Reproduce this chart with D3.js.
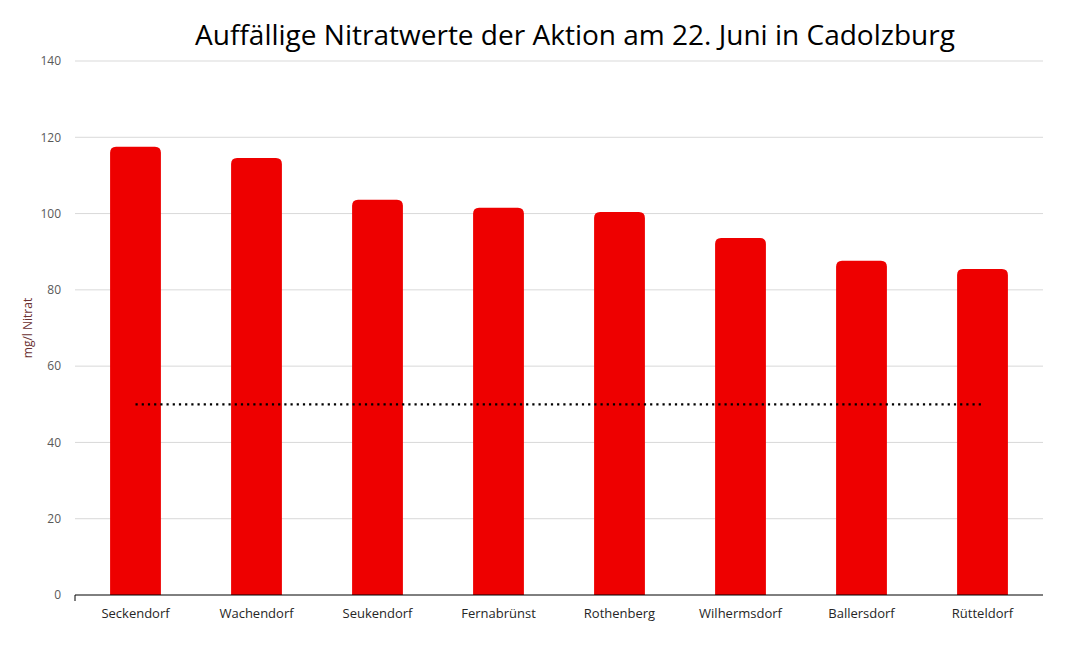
<!DOCTYPE html>
<html>
<head>
    <meta charset="utf-8">
    <script src="https://d3js.org/d3.v7.min.js"></script>
    <style>
        body { margin: 0; background: white; }
        text { font-family: "Open Sans", "Noto Sans", sans-serif; }
    </style>
</head>
<body>
    <div id="chart"></div>
    <script>
        // data
        var orte = ["Seckendorf", "Wachendorf", "Seukendorf", "Fernabrünst", "Rothenberg", "Wilhermsdorf", "Ballersdorf", "Rütteldorf"];
        var nitrat = [117.5, 114.6, 103.6, 101.5, 100.4, 93.6, 87.6, 85.5];
        var grenzwert = 50;
        var yTicks = [0, 20, 40, 60, 80, 100, 120, 140];

        var width = 1071, height = 645;
        var margin = { top: 61, right: 28, bottom: 50, left: 75 };
        var w = width - margin.left - margin.right;
        var h = height - margin.top - margin.bottom;

        var svg = d3.select("#chart").append("svg")
            .attr("width", width)
            .attr("height", height);

        var g = svg.append("g")
            .attr("transform", "translate(" + margin.left + "," + margin.top + ")");

        var xs = d3.scaleBand().domain(orte).range([0, w]).paddingInner(0.58).paddingOuter(0.29);
        var ys = d3.scaleLinear().domain([0, 140]).range([h, 0]);

        // gridlines
        g.selectAll(".grid")
            .data(yTicks.filter(d => d > 0))
            .enter().append("line")
            .attr("x1", 0).attr("x2", w)
            .attr("y1", d => ys(d)).attr("y2", d => ys(d))
            .attr("stroke", "#d9d9d9").attr("stroke-width", 1);

        // y tick labels
        var yAxis = d3.axisLeft(ys).tickValues(yTicks).tickSize(0).tickPadding(14);
        var ya = g.append("g").call(yAxis);
        ya.select(".domain").remove();
        ya.selectAll("text").attr("fill", "#595959").style("font-size", "12px");

        // bars with rounded top
        var r = 6;
        g.selectAll(".bar")
            .data(nitrat)
            .enter().append("path")
            .attr("fill", "#ee0000")
            .attr("d", function (d, i) {
                var x0 = xs(orte[i]), x1 = x0 + xs.bandwidth();
                var y0 = ys(d), yb = ys(0);
                return "M" + x0 + "," + yb + "V" + (y0 + r) +
                    "Q" + x0 + "," + y0 + " " + (x0 + r) + "," + y0 +
                    "H" + (x1 - r) +
                    "Q" + x1 + "," + y0 + " " + x1 + "," + (y0 + r) +
                    "V" + yb + "Z";
            });

        // threshold dotted line
        g.append("line")
            .attr("x1", xs(orte[0]) + xs.bandwidth() / 2)
            .attr("x2", xs(orte[orte.length - 1]) + xs.bandwidth() / 2)
            .attr("y1", ys(grenzwert)).attr("y2", ys(grenzwert))
            .attr("stroke", "black").attr("stroke-width", 2.2)
            .attr("stroke-dasharray", "2.2,4");

        // x axis
        var xAxis = d3.axisBottom(xs).tickSize(0).tickPadding(14);
        var xa = g.append("g").attr("transform", "translate(0," + h + ")").call(xAxis);
        xa.select(".domain").attr("stroke", "black").attr("d", "M0,6V0H" + w);
        xa.selectAll("text").attr("fill", "#262626").style("font-size", "13px");

        // y label
        g.append("text")
            .attr("transform", "rotate(-90)")
            .attr("x", -(ys(70)))
            .attr("y", -43)
            .style("text-anchor", "middle")
            .style("font-size", "12px")
            .attr("fill", "#6b3030")
            .text("mg/l Nitrat");

        // title
        var title = svg.append("text")
            .attr("x", 575)
            .attr("y", 45)
            .style("text-anchor", "middle")
            .style("font-size", "28px")
            .attr("fill", "black")
            .text("Auffällige Nitratwerte der Aktion am 22. Juni in Cadolzburg");
        var tl = title.node().getComputedTextLength();
        title.style("font-size", (28 * 760 / tl) + "px");
    </script>
</body>
</html>
